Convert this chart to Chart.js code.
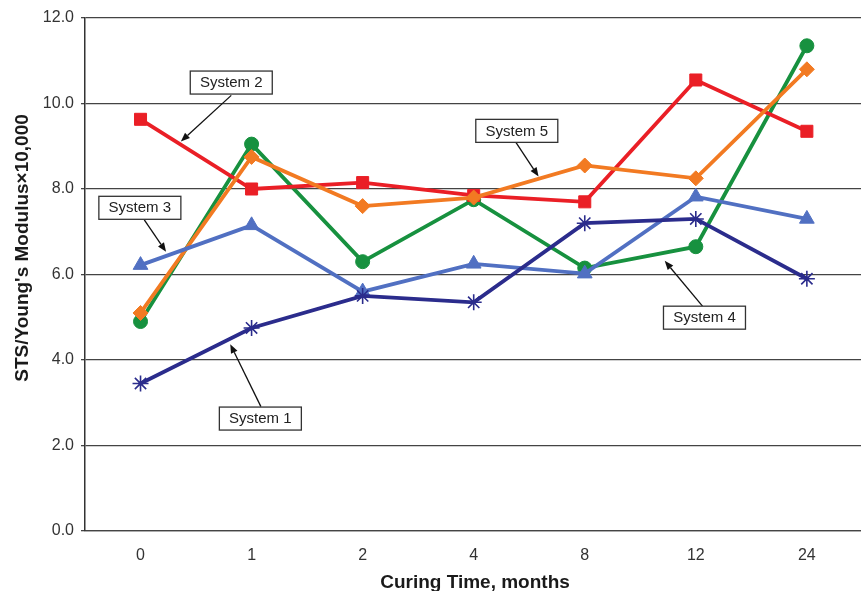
<!DOCTYPE html>
<html>
<head>
<meta charset="utf-8">
<script src="https://cdn.jsdelivr.net/npm/chart.js@4/dist/chart.umd.min.js"></script>
<style>
html,body{margin:0;padding:0;background:#fff;overflow:hidden;}
#wrap{width:861px;height:591px;overflow:hidden;position:relative;}
canvas{display:block;}
</style>
</head>
<body>
<div id="wrap"><canvas id="c" width="872" height="591"></canvas></div>
<script>
// Data
const categories = ['0', '1', '2', '4', '8', '12', '24'];
const system1 = [3.45, 4.75, 5.5, 5.35, 7.2, 7.3, 5.9];
const system2 = [9.63, 8.0, 8.15, 7.85, 7.7, 10.55, 9.35];
const system3 = [6.22, 7.15, 5.6, 6.25, 6.02, 7.82, 7.3];
const system4 = [4.9, 9.05, 6.3, 7.75, 6.15, 6.65, 11.35];
const system5 = [5.1, 8.75, 7.6, 7.8, 8.55, 8.25, 10.8];
const yTicks = [0, 2, 4, 6, 8, 10, 12];
const xTitle = 'Curing Time, months';
const yTitle = "STS/Young's Modulus\u00D710,000";

// Callouts: label, box centre [category index, value], arrow start, arrow tip
const calloutLabels = ['System 1', 'System 2', 'System 3', 'System 4', 'System 5'];
const calloutBox   = [[1.079, 2.63], [0.817, 10.49], [-0.006, 7.56], [5.078, 4.99], [3.388, 9.36]];
const calloutFrom  = [[1.084, 2.91], [0.817, 10.19], [0.034, 7.28], [5.06, 5.26], [3.38, 9.09]];
const calloutTo    = [[0.808, 4.37], [0.363, 9.11], [0.23, 6.53], [4.72, 6.32], [3.584, 8.29]];

const FONT = '"Liberation Sans", Arial, Helvetica, sans-serif';

function ds(label, data, color, style, radius) {
  return {
    label, data,
    borderColor: color, backgroundColor: color,
    pointBackgroundColor: color, pointBorderColor: color,
    borderWidth: 3.8, pointStyle: style, pointRadius: radius,
    pointHoverRadius: radius, pointBorderWidth: style === 'star' ? 1.6 : 1,
    tension: 0, fill: false
  };
}

const annotPlugin = {
  id: 'annot',
  afterDatasetsDraw(chart) {
    const ctx = chart.ctx, xs = chart.scales.x, ys = chart.scales.y;
    const P = (p) => [xs.getPixelForValue(p[0]), ys.getPixelForValue(p[1])];
    ctx.save();
    for (let i = 0; i < calloutLabels.length; i++) {
      const [fx, fy] = P(calloutFrom[i]);
      const [tx, ty] = P(calloutTo[i]);
      const ang = Math.atan2(ty - fy, tx - fx);
      const hl = 9, hw = 3.6;
      const bx = tx - hl * Math.cos(ang), by = ty - hl * Math.sin(ang);
      ctx.strokeStyle = '#111'; ctx.lineWidth = 1.3;
      ctx.beginPath(); ctx.moveTo(fx, fy); ctx.lineTo(bx, by); ctx.stroke();
      ctx.fillStyle = '#111';
      ctx.beginPath();
      ctx.moveTo(tx, ty);
      ctx.lineTo(bx + hw * Math.sin(ang), by - hw * Math.cos(ang));
      ctx.lineTo(bx - hw * Math.sin(ang), by + hw * Math.cos(ang));
      ctx.closePath(); ctx.fill();
      // box
      const [cx, cy] = P(calloutBox[i]);
      const w = 82, h = 23;
      ctx.fillStyle = '#fff';
      ctx.fillRect(cx - w / 2, cy - h / 2, w, h);
      ctx.strokeStyle = '#333'; ctx.lineWidth = 1.3;
      ctx.strokeRect(cx - w / 2, cy - h / 2, w, h);
      ctx.fillStyle = '#222';
      ctx.font = '15px ' + FONT;
      ctx.textAlign = 'center'; ctx.textBaseline = 'middle';
      ctx.fillText(calloutLabels[i], cx, cy + 0.5);
    }
    // axis titles
    ctx.fillStyle = '#1a1a1a';
    ctx.font = 'bold 19px ' + FONT;
    ctx.textAlign = 'center'; ctx.textBaseline = 'alphabetic';
    ctx.fillText(xTitle, 475, 588);
    ctx.translate(27.5, 248);
    ctx.rotate(-Math.PI / 2);
    ctx.fillText(yTitle, 0, 0);
    ctx.restore();
  }
};

new Chart(document.getElementById('c'), {
  type: 'line',
  data: {
    labels: categories,
    datasets: [
      ds('System 1', system1, '#2b2c8c', 'star', 8),
      ds('System 3', system3, '#5170c2', 'triangle', 8.5),
      ds('System 5', system5, '#f27a22', 'rectRot', 7.5),
      ds('System 2', system2, '#ea1f26', 'rect', 8.5),
      ds('System 4', system4, '#17913f', 'circle', 7)
    ]
  },
  options: {
    responsive: false,
    animation: false,
    layout: { padding: { left: 0, top: 18, right: 0, bottom: 0 } },
    plugins: { legend: { display: false }, tooltip: { enabled: false } },
    scales: {
      x: {
        type: 'category', offset: true,
        grid: { display: false },
        border: { display: true, color: '#444', width: 1.3 },
        ticks: { color: '#333', font: { family: FONT, size: 16 }, padding: 7 },
        afterFit(s) { s.height = 60; }
      },
      y: {
        min: 0, max: 12,
        afterBuildTicks(s) { s.ticks = yTicks.map(v => ({ value: v })); },
        ticks: { color: '#333', font: { family: FONT, size: 16 }, padding: 7,
                 callback: v => Number(v).toFixed(1) },
        grid: { color: '#444', lineWidth: 1.3, tickLength: 4, drawTicks: true },
        border: { display: true, color: '#333', width: 1.5 },
        afterFit(s) { s.width = 85; }
      }
    }
  },
  plugins: [annotPlugin]
});
</script>
</body>
</html>
